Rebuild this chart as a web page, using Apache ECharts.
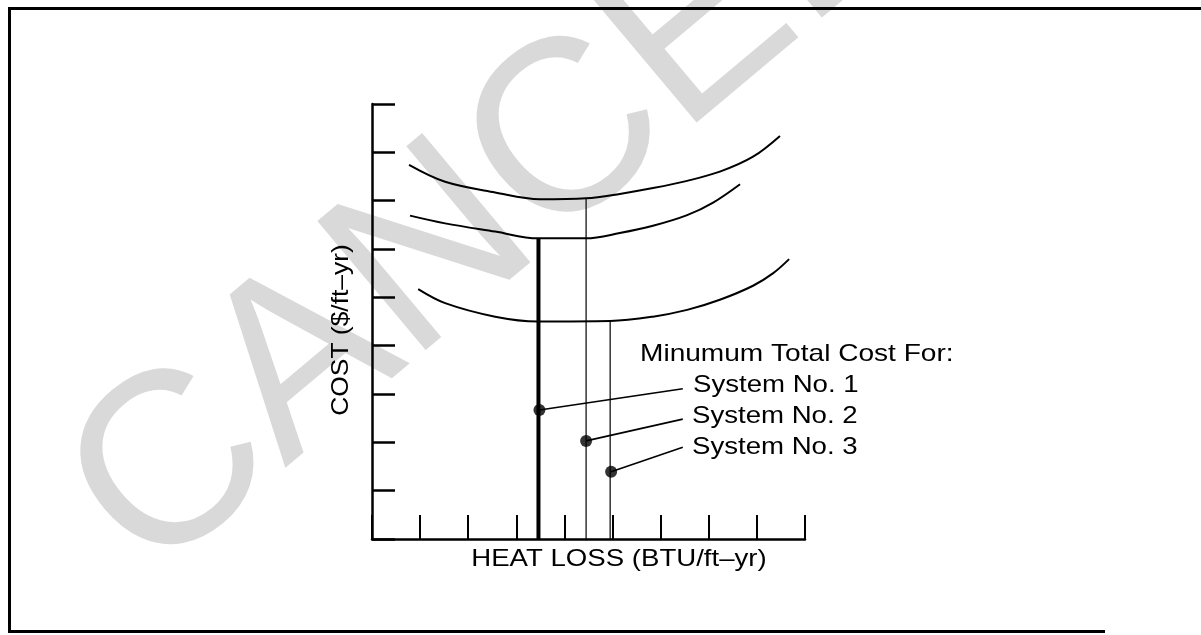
<!DOCTYPE html>
<html>
<head>
<meta charset="utf-8">
<script src="https://cdn.jsdelivr.net/npm/echarts/dist/echarts.min.js"></script>
<style>
  html, body { margin: 0; padding: 0; background: #fff; }
  #chart { width: 1201px; height: 635px; }
</style>
</head>
<body>
<div id="chart"></div>
<script>
// curves: [heat loss, cost] in axis units (0..9)
const curveTop = [[0.77, 7.74], [1.52, 7.39], [2.56, 7.17], [3.49, 7.03], [4.45, 7.05], [5.15, 7.14],
  [5.84, 7.26], [6.55, 7.41], [7.23, 7.60], [7.92, 7.91], [8.48, 8.34]]
const curveMid = [[0.79, 6.69], [1.52, 6.53], [2.56, 6.36], [3.45, 6.22], [4.45, 6.22], [5.15, 6.33],
  [5.84, 6.48], [6.55, 6.70], [7.09, 6.96], [7.65, 7.34]]
const curveLow = [[0.96, 5.17], [1.52, 4.88], [2.56, 4.60], [3.45, 4.50], [4.95, 4.51], [5.84, 4.60],
  [6.55, 4.74], [7.23, 4.95], [7.92, 5.24], [8.34, 5.50], [8.67, 5.79]]

// drop lines from each curve minimum to the heat loss axis
const dropSys1 = [[3.46, 0], [3.46, 6.22]]
const dropSys2 = [[4.45, 0], [4.45, 7.05]]
const dropSys3 = [[4.95, 0], [4.95, 4.51]]

// marker dots and where their leader lines end
const markerDots = [[3.48, 2.67], [4.45, 2.03], [4.97, 1.39]]
const leaderEnds = [[6.46, 3.11], [6.46, 2.48], [6.46, 1.90]]

const noteTitle = 'Minumum Total Cost For:'
const systemLabels = ['System No. 1', 'System No. 2', 'System No. 3']
const xTitle = 'HEAT LOSS (BTU/ft–yr)'
const yTitle = 'COST ($/ft–yr)'
const stampText = 'CANCELLED'

const font = '"Liberation Sans", Arial, sans-serif'
const black = '#000'

function curve(data) {
  return {
    type: 'line', data, smooth: 0.35, showSymbol: false, silent: true,
    lineStyle: { color: black, width: 2 }, z: 3
  }
}
function straight(data, width) {
  return {
    type: 'line', data, showSymbol: false, silent: true,
    lineStyle: { color: black, width }, z: 3
  }
}

const series = [
  curve(curveTop), curve(curveMid), curve(curveLow),
  straight(dropSys1, 4), straight(dropSys2, 1.2), straight(dropSys3, 1.2)
]
markerDots.forEach((d, i) => series.push(straight([d, leaderEnds[i]], 1.6)))
series.push({
  type: 'scatter', data: markerDots, symbol: 'circle', symbolSize: 12,
  itemStyle: { color: black }, z: 4
})

function label(text, x, y, extra) {
  return Object.assign({
    type: 'text', x, y, z: 20, scaleX: 1.15,
    style: { text, font: '24px ' + font, fill: black, textAlign: 'left', textVerticalAlign: 'middle' }
  }, extra || {})
}

const graphic = [
  {
    type: 'text', x: 106, y: 530, rotation: 40 * Math.PI / 180, z: -5,
    style: { text: stampText, font: '245px ' + font, fill: '#d9d9d9', textAlign: 'left', textVerticalAlign: 'middle' }
  },
  { type: 'polyline', z: 20, shape: { points: [[1201, 8.5], [9.5, 8.5], [9.5, 631.5], [1105, 631.5]] },
    style: { stroke: black, lineWidth: 3, fill: null } },
  label(noteTitle, 640, 354, { scaleX: 1.17 }),
  label(systemLabels[0], 693, 385),
  label(systemLabels[1], 692, 416),
  label(systemLabels[2], 692, 447),
  label(xTitle, 619, 559, { style: { text: xTitle, font: '24px ' + font, fill: black, textAlign: 'center', textVerticalAlign: 'middle' } }),
  label(yTitle, 341, 330, { rotation: Math.PI / 2, scaleX: 1.1,
    style: { text: yTitle, font: '24px ' + font, fill: black, textAlign: 'center', textVerticalAlign: 'middle' } })
]

const chart = echarts.init(document.getElementById('chart'))
chart.setOption({
  animation: false,
  backgroundColor: '#fff',
  grid: { left: 372, right: 396, top: 104, bottom: 96, containLabel: false },
  xAxis: {
    type: 'value', min: 0, max: 9, interval: 1,
    axisLine: { show: true, onZero: false, lineStyle: { color: black, width: 2.5 } },
    axisTick: { show: true, inside: true, length: 24, lineStyle: { color: black, width: 2 } },
    axisLabel: { show: false },
    splitLine: { show: false }
  },
  yAxis: {
    type: 'value', min: 0, max: 9, interval: 1,
    axisLine: { show: true, onZero: false, lineStyle: { color: black, width: 2.5 } },
    axisTick: { show: true, inside: true, length: 23, lineStyle: { color: black, width: 2.5 } },
    axisLabel: { show: false },
    splitLine: { show: false }
  },
  graphic,
  series
})
</script>
</body>
</html>
